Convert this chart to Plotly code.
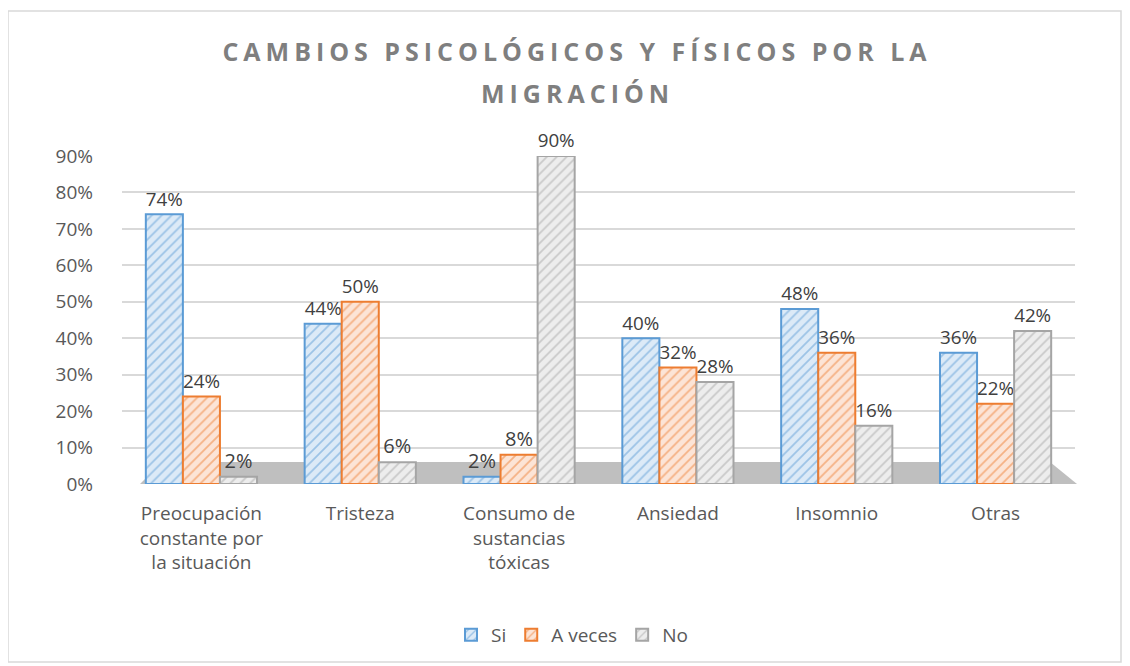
import plotly.graph_objects as go

categories = ["Preocupación<br>constante por<br>la situación", "Tristeza",
              "Consumo de<br>sustancias<br>tóxicas", "Ansiedad", "Insomnio", "Otras"]
series_names = ["Si", "A veces", "No"]
si = [0.74, 0.44, 0.02, 0.40, 0.48, 0.36]
a_veces = [0.24, 0.50, 0.08, 0.32, 0.36, 0.22]
no = [0.02, 0.06, 0.90, 0.28, 0.16, 0.42]
y_ticks = [0, 0.1, 0.2, 0.3, 0.4, 0.5, 0.6, 0.7, 0.8, 0.9]
title_lines = ["CAMBIOS PSICOLÓGICOS Y FÍSICOS POR LA", "MIGRACIÓN"]

main_colors = ["#5B9BD5", "#ED7D31", "#A5A5A5"]
light_colors = ["#DCEAF7", "#FCE4D6", "#EDEDED"]

OFF = 8  # page body margin
W, H = 1130 - OFF, 666 - OFF
PL, PR, PT, PB = 122, 1075, 156, 484
L, T = PL - OFF, PT - OFF
R = W - (PR - OFF)
B = H - (PB - OFF)
pw, ph = W - L - R, H - T - B

def px(x):
    return (x - OFF - L) / pw

def py(y):
    return (H - B - (y - OFF)) / ph

fig = go.Figure()
for name, vals, c, lc in zip(series_names, [si, a_veces, no], main_colors, light_colors):
    fig.add_trace(go.Bar(
        x=categories, y=vals, name=name,
        marker=dict(color=lc, line=dict(color=c, width=2),
                    pattern=dict(shape="/", fgcolor=c, bgcolor=lc, size=7, solidity=0.25)),
        text=[f"{round(v*100)}%" for v in vals], textposition="outside",
        textfont=dict(size=20, color="#404040", family="Open Sans"),
        cliponaxis=False,
    ))

shapes = [
    dict(type="rect", xref="paper", yref="paper", x0=px(8), x1=px(1121), y0=py(662), y1=py(11),
         line=dict(color="#D9D9D9", width=1.5), fillcolor="rgba(0,0,0,0)", layer="below"),
    dict(type="path", xref="paper", yref="paper",
         path=f"M {px(140)} {py(484)} L {px(1077)} {py(484)} L {px(1050)} {py(462)} L {px(162)} {py(462)} Z",
         fillcolor="#BFBFBF", line=dict(width=0), layer="below"),
]

def spaced(t):
    return f"<b><span style='letter-spacing:5px'>{t}</span></b>"

title_font = dict(size=25, color="#7F7F7F", family="Open Sans")

fig.update_layout(
    width=W, height=H,
    margin=dict(l=L, r=R, t=T, b=B),
    paper_bgcolor="white", plot_bgcolor="white",
    barmode="group", bargap=0.3, bargroupgap=0.0,
    title=dict(text=spaced(title_lines[0]),
               x=(577 - OFF) / W, xanchor="center", y=1 - (52 - OFF) / H, yanchor="middle",
               font=title_font),
    annotations=[dict(text=spaced(title_lines[1]), xref="paper", yref="paper",
                      x=px(577), y=py(93), xanchor="center", yanchor="middle",
                      showarrow=False, font=title_font)],
    font=dict(family="Open Sans", color="#595959"),
    yaxis=dict(range=[0, 0.9], tickvals=y_ticks, tickformat=".0%",
               gridcolor="#D9D9D9", gridwidth=1.5, zeroline=False, showline=False,
               tickfont=dict(size=19, color="#595959"), ticklabelstandoff=28),
    xaxis=dict(showline=False, tickfont=dict(size=19, color="#595959"), ticklabelstandoff=16),
    legend=dict(orientation="h", x=px(572), xanchor="center", y=py(635), yanchor="middle",
                font=dict(size=19, color="#595959"), itemwidth=30),
    shapes=shapes,
)

fig.write_html("out.html")
